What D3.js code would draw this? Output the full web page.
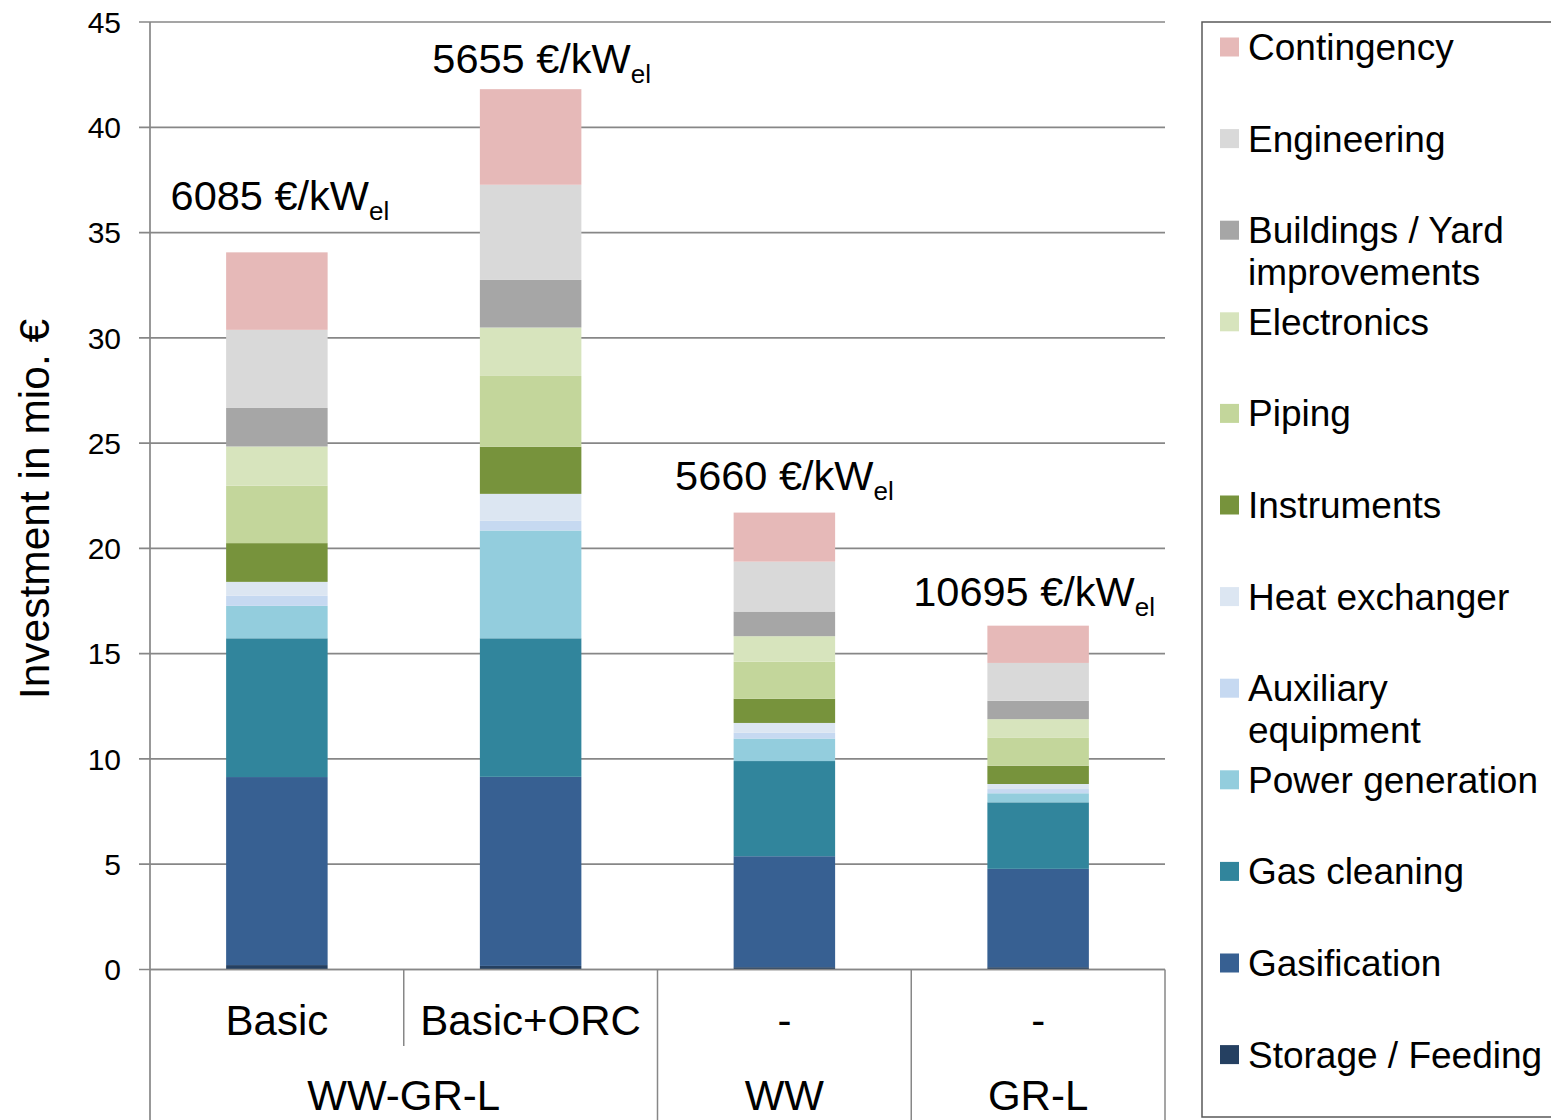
<!DOCTYPE html>
<html>
<head>
<meta charset="utf-8">
<script src="https://cdn.jsdelivr.net/npm/d3@7"></script>
<style>
  html, body { margin: 0; padding: 0; background: #fff; }
  svg { display: block; font-family: "Liberation Sans", Arial, sans-serif; }
</style>
</head>
<body>
<svg id="chart" width="1551" height="1120"></svg>
<script>
// ---------------- DATA ----------------
const categories = ["Basic", "Basic+ORC", "-", "-"];
const groups = ["WW-GR-L", "WW-GR-L", "WW", "GR-L"];
const yTicks = [0, 5, 10, 15, 20, 25, 30, 35, 40, 45];

// series (bottom to top), values in mio. €
const storageFeeding   = [0.21, 0.17, 0.11, 0.11];
const gasification     = [8.93, 8.98, 5.27, 4.67];
const gasCleaning      = [6.59, 6.58, 4.52, 3.16];
const powerGeneration  = [1.54, 5.12, 1.07, 0.43];
const auxiliaryEquip   = [0.48, 0.46, 0.27, 0.20];
const heatExchanger    = [0.66, 1.28, 0.47, 0.24];
const instruments      = [1.84, 2.24, 1.15, 0.87];
const piping           = [2.73, 3.36, 1.76, 1.34];
const electronics      = [1.86, 2.30, 1.21, 0.87];
const buildingsYard    = [1.83, 2.26, 1.17, 0.87];
const engineering      = [3.71, 4.52, 2.37, 1.80];
const contingency      = [3.68, 4.54, 2.33, 1.77];

const seriesNames = ["Storage / Feeding", "Gasification", "Gas cleaning", "Power generation",
  "Auxiliary equipment", "Heat exchanger", "Instruments", "Piping", "Electronics",
  "Buildings / Yard improvements", "Engineering", "Contingency"];
const seriesValues = [storageFeeding, gasification, gasCleaning, powerGeneration, auxiliaryEquip,
  heatExchanger, instruments, piping, electronics, buildingsYard, engineering, contingency];

// specific investment labels
const specificCost = ["6085", "5655", "5660", "10695"];
const specificLabelAt = [36.07, 42.58, 22.77, 17.26]; // value (mio. €) where label baseline sits

// ---------------- STYLE ----------------
const colors = ["#254061", "#376092", "#31859C", "#93CDDD", "#C6D9F1", "#DCE6F2",
  "#77933C", "#C3D69B", "#D7E4BD", "#A6A6A6", "#D9D9D9", "#E6B9B8"];
const legendLines = {
  "Buildings / Yard improvements": ["Buildings / Yard", "improvements"],
  "Auxiliary equipment": ["Auxiliary", "equipment"]
};
const labelDx = [3, 11, 0, -4];
const gridColor = "#878787";

const svg = d3.select("#chart");
const plot = { left: 150, right: 1165, top: 22, bottom: 969.5 };

const idx = d3.range(categories.length);
const x = d3.scaleBand().domain(idx).range([plot.left, plot.right]).paddingInner(0.6).paddingOuter(0.3);
const xCell = d3.scaleBand().domain(idx).range([plot.left, plot.right]).padding(0);
const y = d3.scaleLinear().domain([0, 45]).range([plot.bottom, plot.top]);

// table for stack
const table = idx.map(i => {
  const row = { i };
  seriesNames.forEach((s, k) => row[s] = seriesValues[k][i]);
  return row;
});
const stacked = d3.stack().keys(seriesNames)(table);

// gridlines
svg.append("g").selectAll("line").data(yTicks).join("line")
  .attr("x1", plot.left - 11).attr("x2", plot.right)
  .attr("y1", d => y(d)).attr("y2", d => y(d))
  .attr("stroke", gridColor).attr("stroke-width", 1.7);

// y tick labels
svg.append("g").selectAll("text").data(yTicks).join("text")
  .attr("x", 121).attr("y", d => y(d)).attr("dy", "0.36em")
  .attr("text-anchor", "end").attr("font-size", 30).attr("fill", "#000")
  .text(d => d);

// bars
svg.append("g").selectAll("g").data(stacked).join("g")
  .attr("fill", (d, k) => colors[k])
  .selectAll("rect").data(d => d).join("rect")
  .attr("x", d => x(d.data.i))
  .attr("width", x.bandwidth())
  .attr("y", d => y(d[1]))
  .attr("height", d => y(d[0]) - y(d[1]));

// y axis line
svg.append("line").attr("x1", plot.left).attr("x2", plot.left)
  .attr("y1", plot.top).attr("y2", 1120)
  .attr("stroke", gridColor).attr("stroke-width", 1.7);

// x axis: multi-level category
svg.append("line").attr("x1", plot.left).attr("x2", plot.right)
  .attr("y1", plot.bottom).attr("y2", plot.bottom)
  .attr("stroke", gridColor).attr("stroke-width", 1.7);

const sepX = idx.map(i => xCell(i)).concat([plot.right]);
sepX.forEach((sx, k) => {
  if (k === 0) return;
  const inner = k < groups.length && groups[k] === groups[k - 1];
  svg.append("line").attr("x1", sx).attr("x2", sx)
    .attr("y1", plot.bottom).attr("y2", inner ? 1046 : 1120)
    .attr("stroke", gridColor).attr("stroke-width", 1.5);
});

svg.append("g").selectAll("text").data(idx).join("text")
  .attr("x", i => x(i) + x.bandwidth() / 2).attr("y", 1035)
  .attr("text-anchor", "middle").attr("font-size", 42).attr("fill", "#000")
  .text(i => categories[i]);

// group labels
const groupSpans = [];
idx.forEach(i => {
  const last = groupSpans[groupSpans.length - 1];
  if (last && last.name === groups[i]) last.end = i;
  else groupSpans.push({ name: groups[i], start: i, end: i });
});
svg.append("g").selectAll("text").data(groupSpans).join("text")
  .attr("x", g => (xCell(g.start) + xCell(g.end) + xCell.bandwidth()) / 2)
  .attr("y", 1110)
  .attr("text-anchor", "middle").attr("font-size", 42).attr("fill", "#000")
  .text(g => g.name);

// y axis title
svg.append("text")
  .attr("transform", `translate(49,509) rotate(-90)`)
  .attr("text-anchor", "middle").attr("font-size", 42.5).attr("fill", "#000")
  .text("Investment in mio. €");

// specific cost labels
const ann = svg.append("g").selectAll("text").data(idx).join("text")
  .attr("x", i => x(i) + x.bandwidth() / 2 + labelDx[i])
  .attr("y", i => y(specificLabelAt[i]))
  .attr("text-anchor", "middle").attr("fill", "#000").attr("font-size", 41.5);
ann.append("tspan").text(i => specificCost[i] + " €/kW");
ann.append("tspan").attr("font-size", 26).attr("dy", 10).text("el");

// legend
svg.append("rect").attr("x", 1202).attr("y", 22).attr("width", 400).attr("height", 1095)
  .attr("fill", "none").attr("stroke", "#595959").attr("stroke-width", 1.5);

const legendOrder = d3.range(seriesNames.length).reverse();
const lg = svg.append("g").selectAll("g").data(legendOrder).join("g")
  .attr("transform", (k, j) => `translate(1220, ${47 + j * 91.6})`);
lg.append("rect").attr("x", 0).attr("y", -9.5).attr("width", 19).attr("height", 19)
  .attr("fill", k => colors[k]);
lg.each(function (k) {
  const lines = legendLines[seriesNames[k]] || [seriesNames[k]];
  const t = d3.select(this).append("text").attr("font-size", 37).attr("fill", "#000");
  lines.forEach((ln, li) => {
    t.append("tspan").attr("x", 28).attr("y", 13 + li * 42).text(ln);
  });
});
</script>
</body>
</html>
